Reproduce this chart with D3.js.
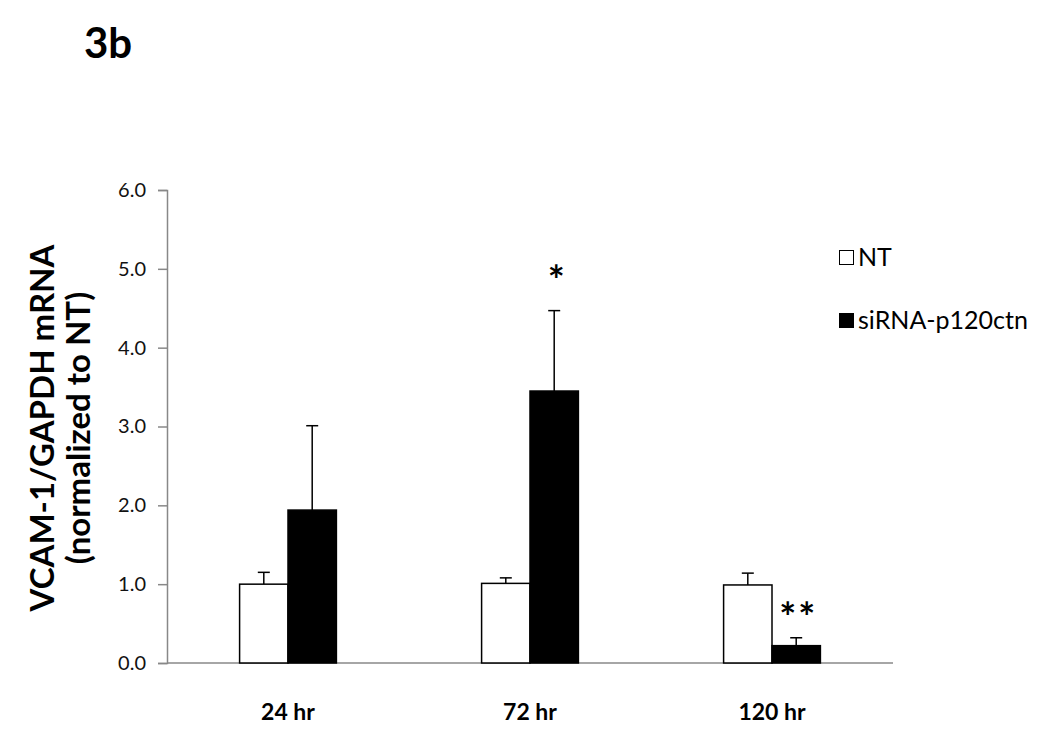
<!DOCTYPE html>
<html>
<head>
<meta charset="utf-8">
<script src="https://cdn.jsdelivr.net/npm/d3@7"></script>
<style>
  body { margin: 0; background: #fff; }
  text { font-family: Lato, "Open Sans", sans-serif; }
</style>
</head>
<body>
<script>
// values
const timepoints = ["24 hr", "72 hr", "120 hr"];
const groups = ["NT", "siRNA-p120ctn"];
const ntMean = [1.0, 1.01, 0.99];
const ntErr = [0.15, 0.07, 0.15];
const siMean = [1.94, 3.45, 0.22];
const siErr = [1.07, 1.02, 0.10];
const stars = ["", "*", "**"];
const yTicks = [0, 1, 2, 3, 4, 5, 6];

const width = 1050, height = 733;
const svg = d3.select("body").append("svg")
    .attr("width", width)
    .attr("height", height);

const x = d3.scaleBand().domain(timepoints).range([167, 893]).padding(0);
const y = d3.scaleLinear().domain([0, 6]).range([663, 190]);
const barW = x.bandwidth() * 0.2;

// title
svg.append("text")
    .attr("x", 84).attr("y", 58)
    .attr("font-size", 42).attr("font-weight", "bold")
    .text("3b");

// y axis
const yAxis = svg.append("g")
    .attr("transform", "translate(167,0)")
    .call(d3.axisLeft(y).tickValues(yTicks).tickFormat(d3.format(".1f")).tickSize(9).tickPadding(12));
yAxis.attr("font-size", null).attr("font-family", null);
yAxis.select(".domain").attr("stroke", "#888").attr("stroke-width", 1.5);
yAxis.selectAll(".tick line").attr("stroke", "#888").attr("stroke-width", 1.5);
yAxis.selectAll(".tick text")
    .attr("fill", "#111")
    .style("font-size", "20px")
    .style("font-family", "Lato, sans-serif");

// x axis baseline
svg.append("line")
    .attr("x1", 167).attr("x2", 893)
    .attr("y1", y(0)).attr("y2", y(0))
    .attr("stroke", "#888").attr("stroke-width", 1.5);

// category labels
svg.selectAll(".xlab").data(timepoints).enter().append("text")
    .attr("class", "xlab")
    .attr("x", d => x(d) + x.bandwidth() / 2)
    .attr("y", 720)
    .attr("text-anchor", "middle")
    .attr("font-size", 23).attr("font-weight", "bold")
    .text(d => d);

// y title
const yt = svg.append("text")
    .attr("transform", "translate(0,428) rotate(-90)")
    .attr("text-anchor", "middle")
    .attr("font-size", 33).attr("font-weight", "bold");
yt.append("tspan").attr("x", 0).attr("y", 54).text("VCAM-1/GAPDH mRNA");
yt.append("tspan").attr("x", 0).attr("y", 90).text("(normalized to NT)");

// bars
function drawSeries(means, errs, offset, fill) {
  const g = svg.append("g");
  timepoints.forEach((t, i) => {
    const cx = x(t) + x.bandwidth() / 2 + offset;
    // error bar
    g.append("line")
      .attr("x1", cx).attr("x2", cx)
      .attr("y1", y(means[i])).attr("y2", y(means[i] + errs[i]))
      .attr("stroke", "#000").attr("stroke-width", 1.5);
    g.append("line")
      .attr("x1", cx - 6).attr("x2", cx + 6)
      .attr("y1", y(means[i] + errs[i])).attr("y2", y(means[i] + errs[i]))
      .attr("stroke", "#000").attr("stroke-width", 1.5);
    g.append("rect")
      .attr("x", cx - barW / 2)
      .attr("y", y(means[i]))
      .attr("width", barW)
      .attr("height", y(0) - y(means[i]))
      .attr("fill", fill)
      .attr("stroke", "#000").attr("stroke-width", 1.5);
  });
}
drawSeries(ntMean, ntErr, -barW / 2, "#fff");
drawSeries(siMean, siErr, barW / 2, "#000");

// significance marks
svg.selectAll(".star").data(stars).enter().append("text")
    .attr("class", "star")
    .attr("x", (d, i) => x(timepoints[i]) + x.bandwidth() / 2 + barW / 2 + (i === 2 ? 2 : 3))
    .attr("y", (d, i) => i === 2 ? y(siMean[i] + siErr[i]) - 6 : y(siMean[i] + siErr[i]) - 16)
    .attr("text-anchor", "middle")
    .attr("font-size", 40)
    .attr("font-weight", "bold")
    .attr("font-family", "DejaVu Sans")
    .attr("letter-spacing", 2)
    .text(d => d);

// legend
const legend = svg.append("g").attr("transform", "translate(839,250)");
groups.forEach((gname, i) => {
  const row = legend.append("g").attr("transform", `translate(0,${i * 63})`);
  row.append("rect")
    .attr("x", 0.5).attr("y", 0.5)
    .attr("width", 14).attr("height", 14)
    .attr("fill", i === 0 ? "#fff" : "#000")
    .attr("stroke", "#000").attr("stroke-width", 1);
  row.append("text")
    .attr("x", 19).attr("y", 16)
    .attr("font-size", 25)
    .text(gname);
});
</script>
</body>
</html>
